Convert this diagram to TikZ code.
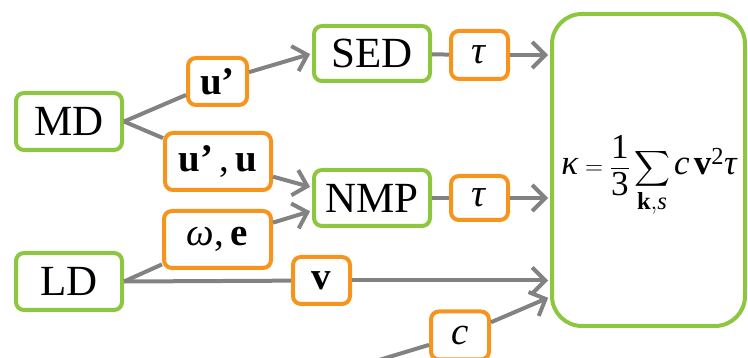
\documentclass[tikz,border=0pt]{standalone}
\usepackage{fontspec}
\usepackage{amsmath}
\setmainfont{Liberation Serif}
\usetikzlibrary{arrows.meta,calc}
\definecolor{grn}{RGB}{141,198,63}
\definecolor{org}{RGB}{247,148,29}
\definecolor{lin}{RGB}{130,130,130}
\begin{document}
\begin{tikzpicture}[x=1pt,y=-1pt,
  gbox/.style={draw=grn,line width=4pt,rounded corners=8pt,fill=white,inner sep=0pt,font=\fontsize{43}{46}\selectfont},
  obox/.style={draw=org,line width=4pt,rounded corners=8pt,fill=white,inner sep=0pt,font=\fontsize{39}{41}\selectfont},
  conn/.style={draw=lin,line width=4pt},
  arr/.style={conn,shorten >=2pt,-{Straight Barb[length=13pt,width=26pt,line width=4pt]}},
]
\useasboundingbox (0,0) rectangle (748,358);
\clip (0,0) rectangle (748,358);
% green boxes
\node[gbox,minimum width=106pt,minimum height=57pt] (MD) at (69,121.5) {MD};
\node[gbox,minimum width=106pt,minimum height=57pt] (LD) at (69,281.5) {LD};
\node[gbox,minimum width=116pt,minimum height=55pt] (SED) at (372,53.5) {SED};
\node[gbox,minimum width=116pt,minimum height=56pt] (NMP) at (372,198) {NMP};
\node[draw=grn,line width=4pt,rounded corners=30pt,minimum width=193pt,minimum height=312pt] (big) at (648.5,170) {};
\node[font=\fontsize{35}{38}\selectfont] (F) at (649,176) {$\displaystyle \text{\itshape κ} = \frac{\text{1}}{\text{3}}\sum_{\text{\bfseries k},\text{\itshape s}} \text{\itshape c}\,\text{\bfseries v}^{\text{2}}\text{\itshape τ}$};
% orange boxes
\node[obox,minimum width=59pt,minimum height=47pt] (u1) at (217.5,81.5) {\textbf{u’}};
\node[obox,minimum width=106pt,minimum height=57pt] (u2) at (218,161.5) {\textbf{u’}\,,\,\textbf{u}};
\node[obox,minimum width=107pt,minimum height=57pt] (we) at (217.5,239.5) {\textit{ω},\,\textbf{e}};
\node[obox,minimum width=57pt,minimum height=47pt] (v) at (321.5,280.5) {\textbf{v}};
\node[obox,minimum width=57pt,minimum height=48pt] (t1) at (479.5,55) {\textit{τ}};
\node[obox,minimum width=57pt,minimum height=44pt] (t2) at (479.5,198) {\textit{τ}};
\node[obox,minimum width=58pt,minimum height=48pt] (c) at (460,335.5) {\textit{c}};
\coordinate (cs) at (366,364);
\coordinate (cin) at (550,297);
% connectors
\draw[conn] (MD.east) -- (u1);
\draw[arr] (u1) -- (SED.west);
\draw[conn] (MD.east) -- (u2);
\draw[arr] (u2) -- (NMP.170);
\draw[conn] (LD.east) -- (we);
\draw[arr] (we) -- (NMP.192);
\draw[conn] (LD.east) -- (v);
\draw[arr] (v) -- (big.west |- v);
\draw[conn] (SED) -- (t1);
\draw[arr] (t1) -- (big.west |- t1);
\draw[conn] (NMP) -- (t2);
\draw[arr] (t2) -- (big.west |- t2);
\draw[conn] (cs) -- (c);
\draw[arr] (c) -- (cin);
\end{tikzpicture}
\end{document}
